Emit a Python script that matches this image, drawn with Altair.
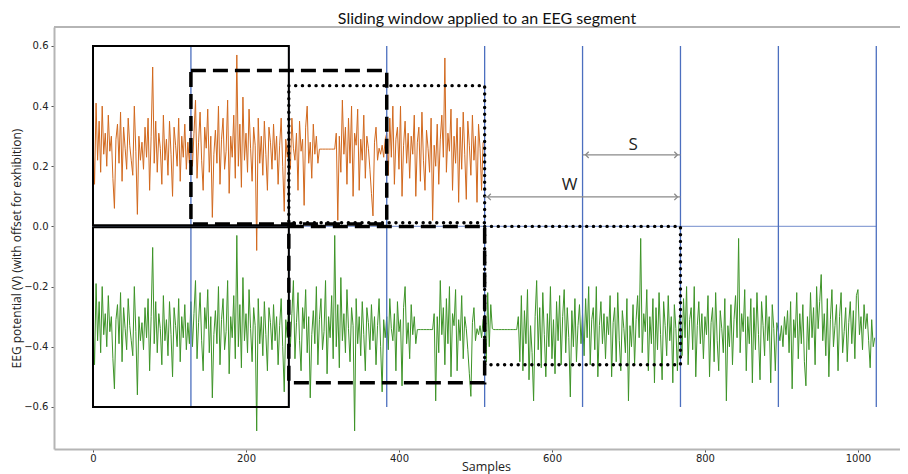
import altair as alt
import pandas as pd

# ---------------- data (one value every 2 samples) ----------------
SAMPLE_STEP = 2

orange = [
    0.28, 0.14, 0.41, 0.22, 0.35, 0.18, 0.40, 0.24, 0.31, 0.20, 0.37, 0.25, 0.30, 0.16, 0.06, 0.29,
    0.34, 0.21, 0.38, 0.15, 0.33, 0.26, 0.19, 0.36, 0.27, 0.22, 0.17, 0.40, 0.25, 0.04, 0.30, 0.22,
    0.28, 0.19, 0.33, 0.23, 0.36, 0.12, 0.30, 0.53, 0.21, 0.35, 0.18, 0.31, 0.26, 0.14, 0.37, 0.22,
    0.29, 0.17, 0.35, 0.24, 0.10, 0.33, 0.27, 0.20, 0.36, 0.15, 0.30, 0.23, 0.34, 0.19, 0.28, 0.21,
    0.35, 0.20, 0.31, 0.42, 0.16, 0.28, 0.38, 0.22, 0.12, 0.33, 0.26, 0.39, 0.18, 0.30, 0.03, 0.24,
    0.32, 0.21, 0.40, 0.14, 0.29, 0.36, 0.19, 0.25, 0.42, 0.11, 0.30, 0.23, 0.37, 0.16, 0.57, 0.20,
    0.34, 0.13, 0.43, 0.22, 0.31, 0.18, 0.39, 0.26, 0.15, 0.33, 0.27, -0.08, 0.36, 0.21, 0.30, 0.17,
    0.35, 0.24, 0.12, 0.33, 0.28, 0.19, 0.34, 0.22, 0.30, 0.14, 0.27, 0.36, 0.20, 0.05, 0.29, 0.23,
    0.30, 0.19, 0.36, 0.26, 0.22, 0.31, 0.12, 0.35, 0.25, 0.29, 0.07, 0.33, 0.40, 0.21, 0.28, 0.16,
    0.34, 0.24, 0.30, 0.21, 0.257, 0.257, 0.257, 0.257, 0.257, 0.257, 0.257, 0.257, 0.257, 0.257, 0.257, 0.31,
    0.02, 0.30, 0.18, 0.42, 0.24, 0.33, 0.14, 0.36, 0.21, 0.40, 0.10, 0.31, 0.27, 0.39, 0.12, 0.29,
    0.22, 0.37, 0.16, 0.30, 0.26, 0.19, 0.11, 0.035, 0.28, 0.33, 0.22, 0.26, 0.24, 0.27, 0.23, 0.29,
    0.31, 0.17, 0.36, 0.23, 0.40, 0.14, 0.29, 0.33, 0.19, 0.40, 0.10, 0.27, 0.35, 0.21, 0.31, 0.16,
    0.30, 0.24, 0.37, 0.10, 0.28, 0.33, 0.15, 0.38, 0.22, 0.12, 0.32, 0.26, 0.18, 0.36, 0.02, 0.27,
    0.20, 0.34, 0.14, 0.29, 0.37, 0.23, 0.56, 0.18, 0.31, 0.25, 0.39, 0.12, 0.30, 0.21, 0.36, 0.08,
    0.33, 0.19, 0.38, 0.24, 0.09, 0.35, 0.27, 0.17, 0.37, 0.22, 0.30, 0.08, 0.34, 0.26, 0.12, 0.28,
]

green = [
    -0.32, -0.46, -0.19, -0.38, -0.25, -0.42, -0.20, -0.36, -0.29, -0.40, -0.23, -0.35, -0.30, -0.44, -0.54, -0.31,
    -0.26, -0.39, -0.22, -0.45, -0.27, -0.34, -0.41, -0.24, -0.33, -0.38, -0.43, -0.20, -0.35, -0.56, -0.30, -0.38,
    -0.32, -0.41, -0.27, -0.37, -0.24, -0.48, -0.30, -0.07, -0.39, -0.25, -0.42, -0.29, -0.34, -0.46, -0.23, -0.38,
    -0.31, -0.43, -0.25, -0.36, -0.50, -0.27, -0.33, -0.40, -0.24, -0.45, -0.30, -0.37, -0.26, -0.41, -0.32, -0.39,
    -0.25, -0.40, -0.29, -0.18, -0.44, -0.32, -0.22, -0.38, -0.48, -0.27, -0.34, -0.21, -0.42, -0.30, -0.57, -0.36,
    -0.28, -0.39, -0.20, -0.46, -0.31, -0.24, -0.41, -0.35, -0.18, -0.49, -0.30, -0.37, -0.23, -0.44, -0.03, -0.40,
    -0.26, -0.47, -0.17, -0.38, -0.29, -0.42, -0.21, -0.34, -0.45, -0.27, -0.33, -0.68, -0.24, -0.39, -0.30, -0.43,
    -0.25, -0.36, -0.48, -0.27, -0.32, -0.41, -0.26, -0.38, -0.30, -0.46, -0.33, -0.24, -0.40, -0.55, -0.31, -0.37,
    -0.25, -0.40, -0.29, -0.18, -0.44, -0.32, -0.22, -0.38, -0.48, -0.27, -0.34, -0.21, -0.42, -0.30, -0.57, -0.36,
    -0.28, -0.39, -0.20, -0.46, -0.31, -0.24, -0.41, -0.35, -0.18, -0.49, -0.30, -0.37, -0.23, -0.44, -0.03, -0.40,
    -0.26, -0.47, -0.17, -0.38, -0.29, -0.42, -0.21, -0.34, -0.45, -0.27, -0.33, -0.68, -0.24, -0.39, -0.30, -0.43,
    -0.25, -0.36, -0.48, -0.27, -0.32, -0.41, -0.26, -0.38, -0.30, -0.46, -0.33, -0.24, -0.40, -0.55, -0.31, -0.37,
    -0.30, -0.41, -0.24, -0.34, -0.38, -0.29, -0.48, -0.25, -0.35, -0.31, -0.53, -0.27, -0.20, -0.39, -0.32, -0.44,
    -0.26, -0.36, -0.30, -0.39, -0.343, -0.343, -0.343, -0.343, -0.343, -0.343, -0.343, -0.343, -0.343, -0.343, -0.343, -0.29,
    -0.58, -0.30, -0.42, -0.18, -0.36, -0.27, -0.46, -0.24, -0.39, -0.20, -0.50, -0.29, -0.33, -0.21, -0.48, -0.31,
    -0.38, -0.23, -0.44, -0.30, -0.34, -0.41, -0.49, -0.565, -0.32, -0.27, -0.38, -0.34, -0.36, -0.33, -0.37, -0.31,
    -0.30, -0.45, -0.22, -0.40, -0.26, -0.34, -0.343, -0.343, -0.343, -0.343, -0.343, -0.343, -0.343, -0.343, -0.343, -0.343,
    -0.343, -0.343, -0.343, -0.343, -0.343, -0.343, -0.30, -0.45, -0.23, -0.48, -0.28, -0.39, -0.21, -0.51, -0.33, -0.42,
    -0.58, -0.30, -0.18, -0.41, -0.27, -0.47, -0.22, -0.36, -0.50, -0.29, -0.40, -0.20, -0.44, -0.31, -0.49, -0.25,
    -0.38, -0.23, -0.46, -0.30, -0.21, -0.42, -0.27, -0.37, -0.567, -0.28, -0.40, -0.24, -0.45, -0.33, -0.26, -0.39,
    -0.29, -0.43, -0.24, -0.37, -0.20, -0.46, -0.31, -0.27, -0.41, -0.20, -0.50, -0.33, -0.25, -0.39, -0.29, -0.44,
    -0.30, -0.36, -0.23, -0.50, -0.32, -0.27, -0.45, -0.22, -0.38, -0.48, -0.28, -0.34, -0.42, -0.24, -0.58, -0.33,
    -0.40, -0.26, -0.46, -0.31, -0.23, -0.37, -0.04, -0.42, -0.29, -0.35, -0.21, -0.48, -0.30, -0.39, -0.24, -0.52,
    -0.27, -0.41, -0.22, -0.36, -0.51, -0.25, -0.33, -0.43, -0.23, -0.38, -0.30, -0.52, -0.26, -0.34, -0.48, -0.32,
    -0.29, -0.43, -0.24, -0.37, -0.20, -0.46, -0.31, -0.27, -0.41, -0.20, -0.50, -0.33, -0.25, -0.39, -0.29, -0.44,
    -0.30, -0.36, -0.23, -0.50, -0.32, -0.27, -0.45, -0.22, -0.38, -0.48, -0.28, -0.34, -0.42, -0.24, -0.58, -0.33,
    -0.40, -0.26, -0.46, -0.31, -0.23, -0.37, -0.04, -0.42, -0.29, -0.35, -0.21, -0.48, -0.30, -0.39, -0.24, -0.52,
    -0.27, -0.41, -0.22, -0.36, -0.51, -0.25, -0.33, -0.43, -0.23, -0.38, -0.30, -0.52, -0.26, -0.34, -0.48, -0.32,
    -0.35, -0.38, -0.33, -0.40, -0.30, -0.36, -0.28, -0.42, -0.25, -0.54, -0.31, -0.37, -0.22, -0.44, -0.29, -0.39,
    -0.26, -0.45, -0.53, -0.30, -0.41, -0.22, -0.37, -0.27, -0.46, -0.20, -0.34, -0.25, -0.16, -0.38, -0.29, -0.43,
    -0.24, -0.50, -0.31, -0.21, -0.40, -0.33, -0.26, -0.48, -0.30, -0.22, -0.42, -0.35, -0.27, -0.45, -0.32, -0.25,
    -0.39, -0.28, -0.44, -0.23, -0.21, -0.36, -0.30, -0.41, -0.26, -0.34, -0.29, -0.38, -0.47, -0.31, -0.40, -0.37,
]

# segment boundaries marked by the blue trace
boundaries = [128, 256, 384, 512, 640, 768, 896, 1024]
marker_low, marker_high = -0.6, 0.6

# window rectangles: (start, end, bottom, top)
solid_boxes = [(0, 256, 0.004, 0.6), (0, 256, -0.6, -0.003)]
dashed_boxes = [(128, 384, 0.008, 0.518), (256, 512, -0.52, 0.0)]
dotted_boxes = [(256, 512, 0.012, 0.468), (512, 768, -0.46, 0.0)]

# S and W arrows: (name, start, end, arrow level, label x, label y)
arrows = [("S", 640, 768, 0.238, 706, 0.272), ("W", 512, 768, 0.098, 623, 0.138)]

x_ticks = [0, 200, 400, 600, 800, 1000]
y_ticks = [-0.6, -0.4, -0.2, 0.0, 0.2, 0.4, 0.6]
x_domain = [-51, 1055]
y_domain = [-0.74, 0.663]

# ---------------- tables ----------------
orange_df = pd.DataFrame({"x": [i * SAMPLE_STEP for i in range(len(orange))], "v": orange})
green_df = pd.DataFrame({"x": [i * SAMPLE_STEP for i in range(len(green))], "v": green})
bound_df = pd.DataFrame({"x": boundaries, "lo": marker_low, "hi": marker_high})
base_df = pd.DataFrame({"x": [0], "x2": [boundaries[-1]], "v": [0.0]})


def box_df(boxes):
    return pd.DataFrame(boxes, columns=["x", "x2", "y", "y2"])


arrow_df = pd.DataFrame(arrows, columns=["name", "x", "x2", "v", "lx", "ly"])

W, H = 846, 422
X = lambda f, **kw: alt.X(f, type="quantitative", scale=alt.Scale(domain=x_domain, nice=False, zero=False), **kw)
Y = lambda f, **kw: alt.Y(f, type="quantitative", scale=alt.Scale(domain=y_domain, nice=False, zero=False), **kw)

x_axis = alt.Axis(values=x_ticks, format="d", title="Samples", grid=False, domainColor="#b5b5b5",
                  domainWidth=2, tickColor="#555", tickSize=3, labelFont="DejaVu Sans", labelFontSize=10,
                  labelColor="#222", labelPadding=1, titleFont="Open Sans", titleFontSize=12.5,
                  titleFontWeight="normal", titleColor="#222", titlePadding=-3, titleX=432)
y_axis = alt.Axis(values=y_ticks, format=".1f", title="EEG potential (V) (with offset for exhibition)",
                  grid=False, domainColor="#b5b5b5", domainWidth=2, tickColor="#555", tickSize=3,
                  labelFont="DejaVu Sans", labelFontSize=10, labelColor="#222", labelPadding=3,
                  titleFont="Open Sans", titleFontSize=12, titleFontWeight="normal", titleColor="#222",
                  titlePadding=0, titleY=221)

orange_line = alt.Chart(orange_df).mark_line(color="#d2691e", strokeWidth=1, clip=True).encode(
    x=X("x", axis=x_axis), y=Y("v", axis=y_axis))
green_line = alt.Chart(green_df).mark_line(color="#3e9428", strokeWidth=1, clip=True).encode(
    x=X("x"), y=Y("v"))

blue_v = alt.Chart(bound_df).mark_rule(color="#4c6fbf", strokeWidth=1.3).encode(
    x=X("x"), y=Y("lo"), y2="hi")
blue_h = alt.Chart(base_df).mark_rule(color="#8ea3d6", strokeWidth=1.3).encode(
    x=X("x"), x2="x2", y=Y("v"))

solid = alt.Chart(box_df(solid_boxes)).mark_rect(fillOpacity=0, stroke="black", strokeWidth=2).encode(
    x=X("x"), x2="x2", y=Y("y"), y2="y2")
dashed = alt.Chart(box_df(dashed_boxes)).mark_rect(
    fillOpacity=0, stroke="black", strokeWidth=3.5, strokeDash=[15, 7]).encode(
    x=X("x"), x2="x2", y=Y("y"), y2="y2")
dotted = alt.Chart(box_df(dotted_boxes)).mark_rect(
    fillOpacity=0, stroke="black", strokeWidth=3.4, strokeDash=[0.1, 6.7], strokeCap="round").encode(
    x=X("x"), x2="x2", y=Y("y"), y2="y2")

arrow_shaft = alt.Chart(arrow_df).mark_rule(color="#8a8a8a", strokeWidth=1.3).encode(
    x=X("x"), x2="x2", y=Y("v"))
arrow_left = alt.Chart(arrow_df).mark_point(
    shape="M 1 -1 L 0 0 L 1 1", filled=False, color="#8a8a8a", size=40, strokeWidth=1.3, opacity=1,
    xOffset=3).encode(x=X("x"), y=Y("v"))
arrow_right = alt.Chart(arrow_df).mark_point(
    shape="M -1 -1 L 0 0 L -1 1", filled=False, color="#8a8a8a", size=40, strokeWidth=1.3, opacity=1,
    xOffset=-3).encode(x=X("x2"), y=Y("v"))
arrow_text = alt.Chart(arrow_df).mark_text(font="Open Sans", fontSize=17, color="#222").encode(
    x=X("lx"), y=Y("ly"), text="name:N")

top_frame = alt.Chart(base_df).mark_rule(color="#b5b5b5", strokeWidth=2).encode(
    x=alt.value(0), x2=alt.value(W + 20), y=alt.value(0))

chart = alt.layer(
    orange_line, green_line, blue_h, blue_v, solid, dashed, dotted,
    arrow_shaft, arrow_left, arrow_right, arrow_text, top_frame,
).properties(
    width=W, height=H,
    title=alt.TitleParams("Sliding window applied to an EEG segment", font="Lato", fontSize=16,
                          fontWeight="normal", color="#111", offset=-1, dx=10, anchor="middle"),
    autosize=alt.AutoSizeParams(type="none"),
    padding={"left": 46, "top": 19, "right": 0, "bottom": 25},
).configure_view(stroke=None)

chart.save("out.html", embed_options={"renderer": "svg", "actions": False})
